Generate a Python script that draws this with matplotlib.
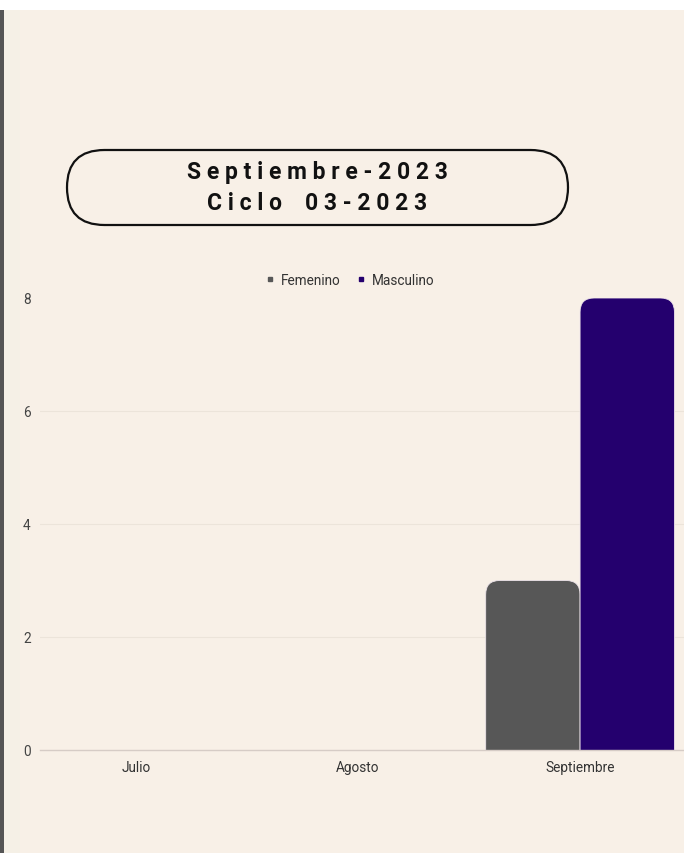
import matplotlib
matplotlib.use("Agg")
import matplotlib.pyplot as plt
from matplotlib.patches import FancyBboxPatch, Rectangle
from matplotlib.lines import Line2D
import numpy as np

plt.rcParams['font.family'] = ['Roboto', 'DejaVu Sans']

# ---- data ----
categories = ["Julio", "Agosto", "Septiembre"]
series_names = ["Femenino", "Masculino"]
femenino = [0, 0, 3]
masculino = [0, 0, 8]
y_ticks = [0, 2, 4, 6, 8]
title_lines = ["Septiembre-2023", "Ciclo 03-2023"]

# ---- style ----
BG = "#F8F0E7"
COL_F = "#575757"
COL_M = "#24006E"
W, H = 684, 854

fig = plt.figure(figsize=(W / 100, H / 100), dpi=100)
fig.patch.set_facecolor(BG)

# background / decoration layer in pixel units
bg = fig.add_axes([0, 0, 1, 1], zorder=0)
bg.set_xlim(0, W)
bg.set_ylim(H, 0)
bg.axis("off")
bg.add_patch(Rectangle((0, 0), W, 11, facecolor="white", edgecolor="none"))
bg.add_patch(Rectangle((0, 11), 4, H - 11, facecolor="#555555", edgecolor="none"))
bg.add_patch(Rectangle((4, 11), 16, H - 11, facecolor="#F5F0E6", edgecolor="none"))

# title box (stadium)
bx, by, bw, bh = 67, 151, 501, 75
bg.add_patch(FancyBboxPatch((bx, by), bw, bh,
                            boxstyle=f"round,pad=0,rounding_size={bh/2}",
                            facecolor="none", edgecolor="#111111", linewidth=1.6))

def spaced(s):
    out = []
    for ch in s:
        out.append(ch if ch != " " else "  ")
    return " ".join(out)

bg.text(bx + bw / 2, 172, spaced(title_lines[0]), ha="center", va="center",
        fontsize=16.5, fontweight="bold", color="#111111")
bg.text(bx + bw / 2, 203, spaced(title_lines[1]), ha="center", va="center",
        fontsize=16.5, fontweight="bold", color="#111111")

# main axes
left_px, right_px = 40, 684
bot_px, top_px = 751, 299
ax = fig.add_axes([left_px / W, (H - bot_px) / H,
                   (right_px - left_px) / W, (bot_px - top_px) / H], zorder=1)
ax.set_facecolor("none")

x = np.arange(len(categories))
group = 0.85
bw_bar = group / 2
ax.set_xlim(-0.432, 2.468)
ax.set_ylim(0, 8)

bars_f = ax.bar(x - bw_bar / 2, femenino, bw_bar, color=COL_F)
bars_m = ax.bar(x + bw_bar / 2, masculino, bw_bar, color=COL_M)

# replace rectangles with top-rounded bars
px_per_x = (right_px - left_px) / (2.468 + 0.432)
px_per_y = (bot_px - top_px) / 8.0
r_px = 14
rx = r_px / px_per_x
aspect = px_per_x / px_per_y
for bars, col in ((bars_f, COL_F), (bars_m, COL_M)):
    for rect in bars:
        h = rect.get_height()
        if h <= 0:
            rect.remove()
            continue
        ext = r_px / px_per_y
        p = FancyBboxPatch((rect.get_x(), -ext), rect.get_width(), h + ext,
                           boxstyle=f"round,pad=0,rounding_size={rx}",
                           mutation_aspect=aspect,
                           facecolor=col, edgecolor="#EDE4EA", linewidth=0.6,
                           zorder=2)
        p.set_clip_path(Rectangle((0, 0), 1, 1, transform=ax.transAxes))
        ax.add_patch(p)
        rect.remove()

ax.set_xticks(x)
ax.set_xticklabels(categories, fontsize=9.8, color="#333333")
ax.set_yticks(y_ticks)
ax.set_yticklabels([str(v) for v in y_ticks], fontsize=9.8, color="#444444")
ax.tick_params(axis="both", length=0)
ax.tick_params(axis="x", pad=7)
for lbl in ax.get_yticklabels():
    lbl.set_horizontalalignment("center")
ax.tick_params(axis="y", pad=9.5)
for s in ["top", "right", "left"]:
    ax.spines[s].set_visible(False)
ax.spines["bottom"].set_color("#D6CCC6")
ax.spines["bottom"].set_linewidth(1.0)
ax.set_axisbelow(True)
ax.yaxis.grid(True, color="#ECE4DA", linewidth=0.8)
ax.get_ygridlines()[-1].set_visible(False)
ax.get_ygridlines()[0].set_visible(False)

handles = [Line2D([], [], marker="s", linestyle="none", markersize=3, color=COL_F),
           Line2D([], [], marker="s", linestyle="none", markersize=3, color=COL_M)]
ax.legend(handles, series_names, loc="center", bbox_to_anchor=(0.481, 1.04),
          ncol=2, frameon=False, fontsize=9.8, handlelength=0.6, handletextpad=0.5,
          columnspacing=1.2, labelcolor="#333333")

fig.savefig("out.png", dpi=100, facecolor=BG)
